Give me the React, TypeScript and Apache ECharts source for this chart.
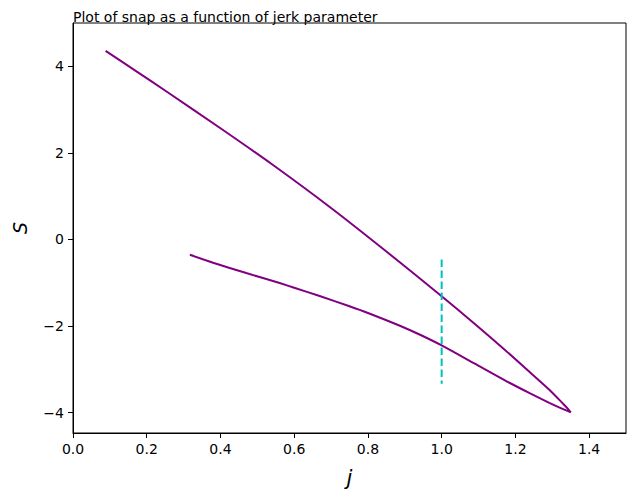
import React, { useEffect, useRef } from "react";
import * as echarts from "echarts";

const title = "Plot of snap as a function of jerk parameter";
const xName = "j";
const yName = "S";
const xTicks = [0, 0.2, 0.4, 0.6, 0.8, 1.0, 1.2, 1.4];
const yTicks = [-4, -2, 0, 2, 4];

// jerk values along the curve (upper branch then lower branch back)
const jerkUpper = [0.0885, 0.17, 0.2537, 0.4, 0.5416, 0.7, 0.85, 1.0, 1.09, 1.174, 1.24, 1.292, 1.33, 1.345];
const snapUpper = [4.355, 3.895, 3.418, 2.569, 1.726, 0.728, -0.277, -1.312, -1.951, -2.568, -3.07, -3.47, -3.8, -3.935];
const jerkLower = [1.35, 1.32, 1.292, 1.24, 1.174, 1.09, 1.0, 0.94, 0.885, 0.8, 0.75, 0.669, 0.6, 0.5605, 0.47, 0.38, 0.317];
const snapLower = [-3.99, -3.882, -3.773, -3.555, -3.265, -2.87, -2.447, -2.195, -1.986, -1.697, -1.542, -1.307, -1.114, -1.007, -0.776, -0.537, -0.354];

const markerX = [1.0, 1.0];
const markerY = [-0.46, -3.33];

const FONT = "DejaVu Sans";

export default function App() {
  const ref = useRef<HTMLDivElement>(null);
  useEffect(() => {
    if (!ref.current) return;
    const chart = echarts.init(ref.current, null, { renderer: "svg" });
    const curve: number[][] = [];
    jerkUpper.forEach((x, i) => curve.push([x, snapUpper[i]]));
    jerkLower.forEach((x, i) => curve.push([x, snapLower[i]]));
    const marker = markerX.map((x, i) => [x, markerY[i]]);
    const fmtY = (v: number) => (v < 0 ? "\u2212" + Math.abs(v) : String(v));
    chart.setOption({
      animation: false,
      backgroundColor: "#fff",
      textStyle: { fontFamily: FONT },
      title: {
        text: title,
        left: 73,
        top: 10,
        padding: 0,
        textStyle: { fontFamily: FONT, fontSize: 14, fontWeight: "normal", color: "#000" },
      },
      grid: {
        left: 73,
        right: 4,
        top: 23,
        bottom: 59,
        show: true,
        borderColor: "#000",
        borderWidth: 1,
        backgroundColor: "transparent",
      },
      xAxis: {
        type: "value",
        min: 0,
        max: 1.5,
        name: xName,
        nameLocation: "middle",
        nameGap: 34,
        nameTextStyle: { fontFamily: FONT, fontSize: 21, fontStyle: "italic", color: "#000" },
        splitLine: { show: false },
        axisLine: { show: true, onZero: false, lineStyle: { color: "#000", width: 1 } },
        axisTick: { show: true, inside: false, length: 5, lineStyle: { color: "#000" }, customValues: xTicks },
        axisLabel: {
          color: "#000",
          fontSize: 14,
          fontFamily: FONT,
          margin: 9,
          customValues: xTicks,
          formatter: (v: number) => v.toFixed(1),
        },
      },
      yAxis: {
        type: "value",
        min: -4.47,
        max: 5.0,
        name: yName,
        nameLocation: "middle",
        nameGap: 44,
        nameRotate: 90,
        nameTextStyle: { fontFamily: FONT, fontSize: 19, fontStyle: "italic", color: "#000" },
        splitLine: { show: false },
        axisLine: { show: true, onZero: false, lineStyle: { color: "#000", width: 1 } },
        axisTick: { show: true, inside: false, length: 5, lineStyle: { color: "#000" }, customValues: yTicks },
        axisLabel: {
          color: "#000",
          fontSize: 14,
          fontFamily: FONT,
          margin: 9,
          customValues: yTicks,
          formatter: fmtY,
        },
      },
      series: [
        {
          type: "line",
          data: curve,
          showSymbol: false,
          smooth: 0.25,
          lineStyle: { color: "#800080", width: 2 },
          itemStyle: { color: "#800080" },
        },
        {
          type: "line",
          data: marker,
          showSymbol: false,
          lineStyle: { color: "#00bfbf", width: 2, type: [7.7, 3.3] },
          itemStyle: { color: "#00bfbf" },
        },
      ],
    });
    return () => chart.dispose();
  }, []);
  return <div ref={ref} style={{ width: 630, height: 493, position: "absolute", left: 0, top: 0 }} />;
}
